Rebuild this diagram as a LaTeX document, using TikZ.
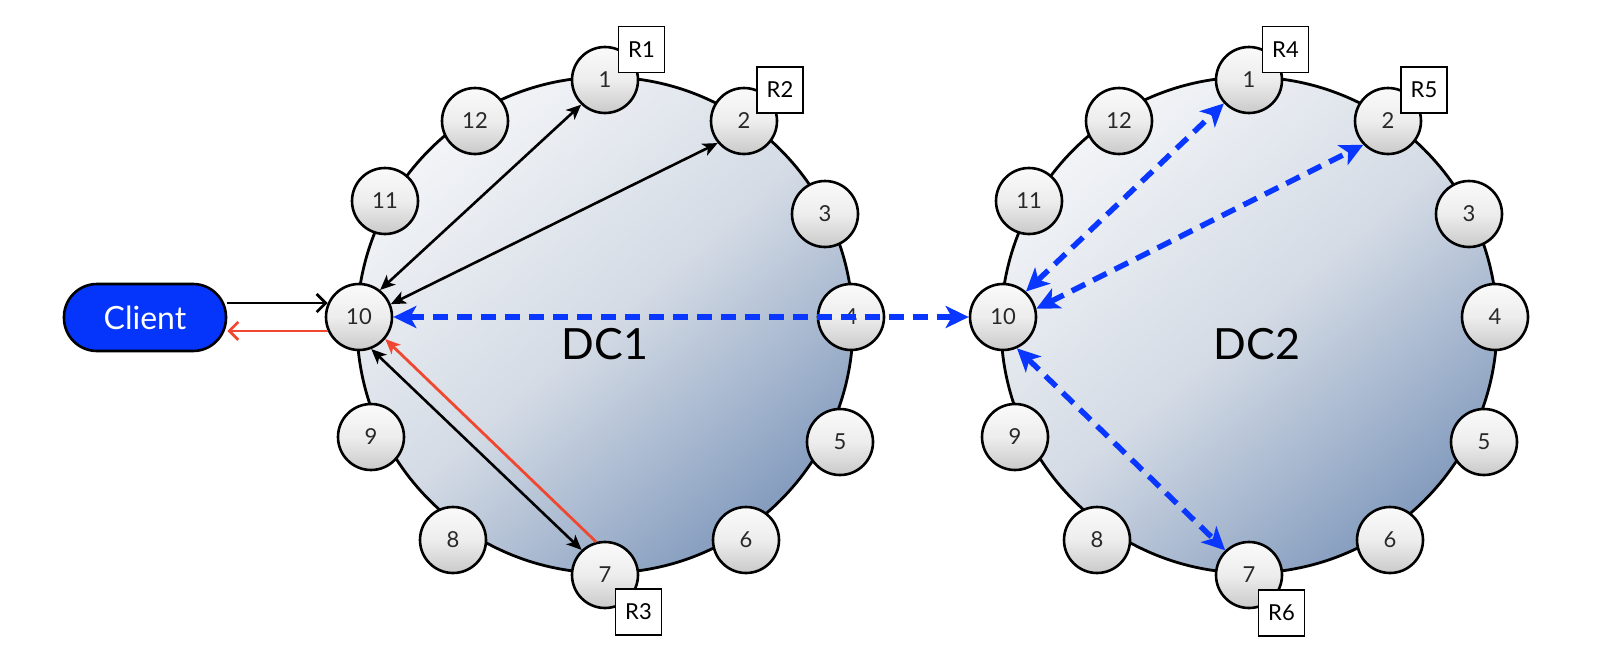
\documentclass[tikz,border=0pt]{standalone}
\usepackage{fontspec}
\setmainfont{Lato}
\usetikzlibrary{arrows.meta,calc}

\definecolor{linkblue}{RGB}{10,55,255}
\definecolor{clientblue}{RGB}{5,52,250}
\definecolor{replyred}{RGB}{240,72,48}
\definecolor{dclight}{RGB}{242,244,247}
\definecolor{dcmid}{RGB}{212,219,229}
\definecolor{dcdark}{RGB}{132,156,190}
\definecolor{digitgray}{RGB}{40,40,40}

\tikzset{
  dcdisk/.style={circle, draw=black, line width=2.8pt, minimum size=496pt, inner sep=0pt,
    top color=dclight, bottom color=dcdark, middle color=dcmid, shading angle=40},
  dclabel/.style={font=\fontsize{43}{48}\selectfont},
  token/.style={circle, draw=black, line width=2.6pt, minimum size=66pt, inner sep=0pt,
    top color=gray!4, bottom color=gray!42, middle color=gray!14,
    text=digitgray, font=\fontsize{22}{24}\selectfont},
  replica/.style={draw=black, line width=1.8pt, fill=white, minimum size=46pt, inner sep=0pt,
    font=\fontsize{22}{24}\selectfont},
  clientbox/.style={draw=black, line width=2.6pt, fill=clientblue, rounded corners=33pt,
    minimum width=162pt, minimum height=67pt, text=white, font=\fontsize{32}{36}\selectfont},
  blkboth/.style={line width=2.6pt,
    {Stealth[length=15pt,width=13pt,inset=4pt]}-{Stealth[length=15pt,width=13pt,inset=4pt]}},
  redone/.style={draw=replyred, line width=2.8pt, -{Stealth[length=15pt,width=13pt,inset=4pt]}},
  bluedash/.style={draw=linkblue, line width=5.5pt, dash pattern=on 15pt off 9pt,
    {Stealth[length=23pt,width=22pt,inset=6pt]}-{Stealth[length=23pt,width=22pt,inset=6pt]}},
  barbreq/.style={line width=2.8pt, -{Straight Barb[length=9pt,width=18pt]}},
  barbrep/.style={draw=replyred, line width=2.8pt, -{Straight Barb[length=9pt,width=18pt]}},
}

\begin{document}
\begin{tikzpicture}[x=1pt,y=-1pt]
  \useasboundingbox (0,0) rectangle (1608,664);

  % the two data-centre rings
  \node[dcdisk] (dc1) at (605,325) {};
  \node[dcdisk] (dc2) at (1249,325) {};
  \node[dclabel] (lab1) at (605,344) {DC1};
  \node[dclabel] (lab2) at (1257,344) {DC2};

  % twelve tokens on each ring
  \foreach \k/\x/\y in {1/605/80, 2/744/121, 3/825/214, 4/851/317, 5/840/442, 6/746/540,
                        7/605/575, 8/453/540, 9/371/437, 10/359/317, 11/385/201, 12/475/121} {
    \node[token] (a\k) at (\x,\y) {\k};
    \node[token] (b\k) at (\x+644,\y) {\k};
  }

  % client
  \node[clientbox] (client) at (145,317.5) {Client};
  \draw[barbreq] (client.east |- a10.156) -- (a10.156);
  \draw[barbrep] (a10.204) -- (a10.204 -| client.east);

  % coordinator traffic inside DC1
  \draw[blkboth] (a10.52) -- (a1.226);
  \draw[blkboth] (a10.22) -- (a2.220);
  \draw[blkboth] (a10.291) -- (a7.133);
  \draw[redone] (a7.105) -- (a10.320);

  % cross data-centre traffic
  \draw[bluedash] (a10) -- (b10);
  \draw[bluedash] (b10.48) -- (b1.223);
  \draw[bluedash] (b10.14) -- (b2.224);
  \draw[bluedash] (b10.294) -- (b7.134);

  % replica tags
  \node[replica] (r1) at ($(a1)+(36.5,-30.5)$) {R1};
  \node[replica] (r2) at ($(a2)+(36,-31)$) {R2};
  \node[replica] (r3) at ($(a7)+(33.5,37)$) {R3};
  \node[replica] (r4) at ($(b1)+(36.5,-30.5)$) {R4};
  \node[replica] (r5) at ($(b2)+(36,-31)$) {R5};
  \node[replica] (r6) at ($(b7)+(32.5,38)$) {R6};
\end{tikzpicture}
\end{document}
